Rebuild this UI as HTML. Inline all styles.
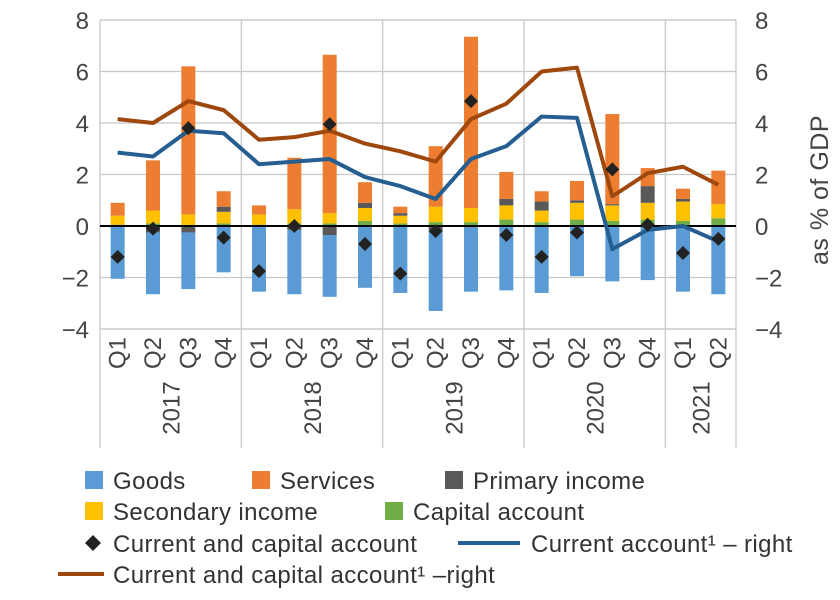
<!DOCTYPE html>
<html><head><meta charset="utf-8"><style>
body{margin:0;background:#fff;}
svg{display:block;font-family:"Liberation Sans",Arial,sans-serif;}
</style></head><body>
<svg id="c" width="840" height="600" xmlns="http://www.w3.org/2000/svg"></svg>
<script>
const s=document.getElementById('c');
const L=100,R=736,Z=226,U=25.75,W=(R-L)/18;
const y=v=>Z-v*U, cx=i=>L+W*(i+0.5);
let h='';
for(let v=-4;v<=8;v+=2){ if(v!==0) h+=`<line x1="${L}" x2="${R}" y1="${y(v)}" y2="${y(v)}" stroke="#c8c8c8" stroke-width="1.3"/>`;
 h+=`<text x="89" y="${y(v)+9}" font-size="24" fill="#444" text-anchor="end">${v<0?'\u2212'+(-v):v}</text>`;
 h+=`<text x="755" y="${y(v)+9}" font-size="24" fill="#444">${v<0?'\u2212'+(-v):v}</text>`;}
[L,L+4*W,L+8*W,L+12*W,L+16*W,R].forEach(x=>h+=`<line x1="${x}" x2="${x}" y1="20" y2="448" stroke="#c8c8c8" stroke-width="1.3"/>`);
h+=`<line x1="${L}" x2="${R}" y1="20" y2="20" stroke="#c8c8c8" stroke-width="1.3"/>`;
h+=`<line x1="${L}" x2="${R}" y1="329" y2="329" stroke="#c8c8c8" stroke-width="1.3"/>`;
const d=[
[-2.05,0,0.05,0.4,0.4,0.9,-1.2],
[-2.65,-0.25,0.1,0.6,0.6,2.55,-0.1],
[-2.45,-0.25,0.05,0.45,0.45,6.2,3.8],
[-1.8,0,0.1,0.55,0.75,1.35,-0.45],
[-2.55,0,0.05,0.45,0.45,0.8,-1.75],
[-2.65,-0.15,0.1,0.65,0.65,2.65,0],
[-2.75,-0.35,0.1,0.5,0.5,6.65,3.95],
[-2.4,0,0.2,0.7,0.9,1.7,-0.7],
[-2.6,0,0.1,0.4,0.5,0.75,-1.85],
[-3.3,-0.15,0.15,0.75,0.75,3.1,-0.2],
[-2.55,-0.05,0.15,0.7,0.7,7.35,4.85],
[-2.5,0,0.25,0.8,1.05,2.1,-0.35],
[-2.6,0,0.15,0.6,0.95,1.35,-1.2],
[-1.95,0,0.25,0.9,1.0,1.75,-0.25],
[-2.15,0,0.2,0.8,0.85,4.35,2.2],
[-2.1,0,0.25,0.9,1.55,2.25,0.05],
[-2.55,0,0.2,0.95,1.05,1.45,-1.05],
[-2.65,0,0.3,0.85,0.85,2.15,-0.5]];
const bw=14;
const rect=(x,a,b,c)=>`<rect x="${x-bw/2}" y="${y(Math.max(a,b))}" width="${bw}" height="${Math.abs(a-b)*U}" fill="${c}"/>`;
d.forEach((r,i)=>{const x=cx(i);
 h+=rect(x,r[1],r[0],'#5b9bd5');
 if(r[1]<0)h+=rect(x,0,r[1],'#595959');
 h+=rect(x,0,r[2],'#70ad47');
 h+=rect(x,r[2],r[3],'#ffc000');
 if(r[4]>r[3])h+=rect(x,r[3],r[4],'#595959');
 h+=rect(x,r[4],r[5],'#ed7d31');
});
h+=`<line x1="${L}" x2="${R}" y1="${Z}" y2="${Z}" stroke="#000" stroke-width="2"/>`;
const br=[4.15,4.0,4.85,4.5,3.35,3.45,3.7,3.2,2.9,2.5,4.15,4.75,6.0,6.15,1.15,2.05,2.3,1.6];
const bl=[2.85,2.7,3.7,3.6,2.4,2.5,2.6,1.9,1.55,1.05,2.6,3.1,4.25,4.2,-0.9,-0.15,0,-0.6];
h+=`<polyline fill="none" stroke="#9e480e" stroke-width="4" stroke-linejoin="round" points="${br.map((v,i)=>cx(i)+','+y(v)).join(' ')}"/>`;
h+=`<polyline fill="none" stroke="#255e91" stroke-width="4" stroke-linejoin="round" points="${bl.map((v,i)=>cx(i)+','+y(v)).join(' ')}"/>`;
d.forEach((r,i)=>{const x=cx(i),yy=y(r[6]);h+=`<polygon points="${x},${yy-7} ${x+7},${yy} ${x},${yy+7} ${x-7},${yy}" fill="#222"/>`;});
const q=['Q1','Q2','Q3','Q4'];
d.forEach((r,i)=>{const x=cx(i)+8;h+=`<text transform="translate(${x},353) rotate(-90)" font-size="24" fill="#444" text-anchor="middle">${q[i%4]}</text>`;});
[['2017',0,4],['2018',4,8],['2019',8,12],['2020',12,16],['2021',16,18]].forEach(([t,a,b])=>{const x=L+W*(a+b)/2+9;h+=`<text transform="translate(${x},408) rotate(-90)" font-size="24" fill="#444" text-anchor="middle">${t}</text>`;});
h+=`<text transform="translate(828,190) rotate(-90)" font-size="25" fill="#444" text-anchor="middle" letter-spacing="0.5">as % of GDP</text>`;
const sq=(x,yy,c)=>`<rect x="${x}" y="${yy-9}" width="18" height="18" fill="${c}"/>`;
const tx=(x,yy,t)=>`<text x="${x}" y="${yy+9}" font-size="24" fill="#333" letter-spacing="0.4">${t}</text>`;
h+=sq(85,480,'#5b9bd5')+tx(113,480,'Goods');
h+=sq(252,480,'#ed7d31')+tx(280,480,'Services');
h+=sq(445,480,'#595959')+tx(473,480,'Primary income');
h+=sq(85,511,'#ffc000')+tx(113,511,'Secondary income');
h+=sq(385,511,'#70ad47')+tx(413,511,'Capital account');
h+=`<polygon points="93,535 101,543 93,551 85,543" fill="#222"/>`+tx(113,543,'Current and capital account');
h+=`<line x1="458" x2="520" y1="543" y2="543" stroke="#255e91" stroke-width="4"/>`+tx(531,543,'Current account\u00b9 \u2013 right');
h+=`<line x1="58" x2="104" y1="574" y2="574" stroke="#9e480e" stroke-width="4"/>`+tx(113,574,'Current and capital account\u00b9 \u2013right');
s.innerHTML=h;
</script>
</body></html>
